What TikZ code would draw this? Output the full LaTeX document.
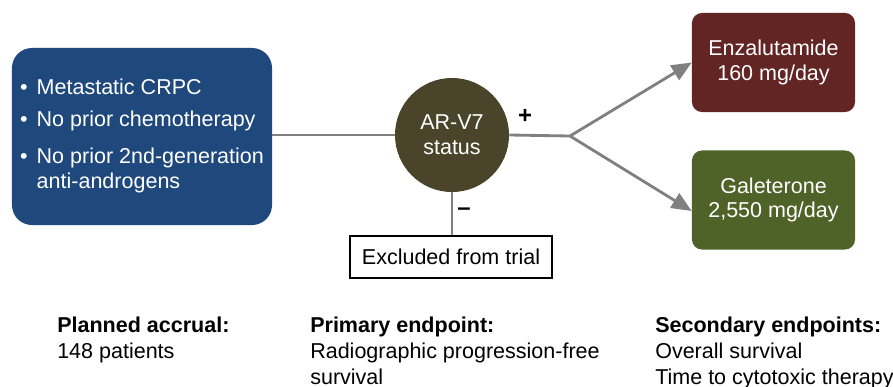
\documentclass[tikz,border=0pt]{standalone}
\usepackage{fontspec}
\setmainfont{Liberation Sans}
\usepackage{tikz}
\usetikzlibrary{arrows.meta, shapes.geometric, positioning, calc}

\definecolor{critblue}{RGB}{31,73,125}
\definecolor{statusbrown}{RGB}{74,69,42}
\definecolor{enzared}{RGB}{99,37,35}
\definecolor{galegreen}{RGB}{79,98,40}
\definecolor{linkgray}{RGB}{128,128,128}

\newcommand{\diagfont}{\fontsize{15.3}{17.5}\selectfont}

\tikzset{
  armbox/.style={rounded corners=0.25cm, minimum width=4.075cm, minimum height=2.475cm,
    text=white, align=center, font=\diagfont},
  link/.style={draw=linkgray, line width=2pt},
  endpt/.style={anchor=north west, inner sep=0pt, align=left,
    font=\fontsize{15.3}{18.3}\selectfont}
}

\begin{document}
\begin{tikzpicture}[x=0.025cm, y=-0.025cm]
        \useasboundingbox (0, 0) rectangle (893, 387);

        \node[fill=critblue, rounded corners=0.5cm, minimum width=6.5cm, minimum height=4.425cm,
          text=white, font=\diagfont] (crit) at (142, 136.5) {%
          \begin{tabular}{@{}l@{\hspace{6.5pt}}l@{}}
            \textbullet & Metastatic CRPC\\[5.2pt]
            \textbullet & No prior chemotherapy\\[9.4pt]
            \textbullet & No prior 2nd-generation\\
                        & anti-androgens
          \end{tabular}};

        \node[circle, fill=statusbrown, minimum size=2.85cm, inner sep=0pt, text=white,
          align=center, font=\diagfont] (status) at (452, 135) {AR-V7\\status};

        \node[armbox, fill=enzared] (enza) at (773.5, 62.5) {Enzalutamide\\160 mg/day};
        \node[armbox, fill=galegreen] (gale) at (773.5, 200) {Galeterone\\2,550 mg/day};

        \node[draw=black, fill=white, line width=0.8pt, minimum width=5.05cm, minimum height=1.05cm,
          font=\diagfont] (excl) at (451, 257) {Excluded from trial};

        \coordinate (split) at (570, 136);

        \draw[link] (crit.east |- status.west) -- (status.west);
        \draw[link] (status.east) -- (split);
        \draw[link, -{Triangle[length=0.5cm, width=0.42cm]}] (split) -- (enza.west);
        \draw[link, -{Triangle[length=0.5cm, width=0.42cm]}] (split) -- (gale.west |- 0, 211);
        \draw[link] (status.south) -- (status.south |- excl.north);

        \node[font=\bfseries\fontsize{17}{18}\selectfont] (pos) at (525, 116) {+};
        \node[font=\bfseries\fontsize{17}{18}\selectfont] (neg) at (464, 212) {--};

        \node[endpt] (accrual) at (57, 317) {\textbf{Planned accrual:}\\148 patients};
        \node[endpt] (primary) at (310, 317) {\textbf{Primary endpoint:}\\Radiographic progression-free\\survival};
        \node[endpt] (second) at (655, 317) {\textbf{Secondary endpoints:}\\Overall survival\\Time to cytotoxic therapy};

      \end{tikzpicture}
\end{document}
